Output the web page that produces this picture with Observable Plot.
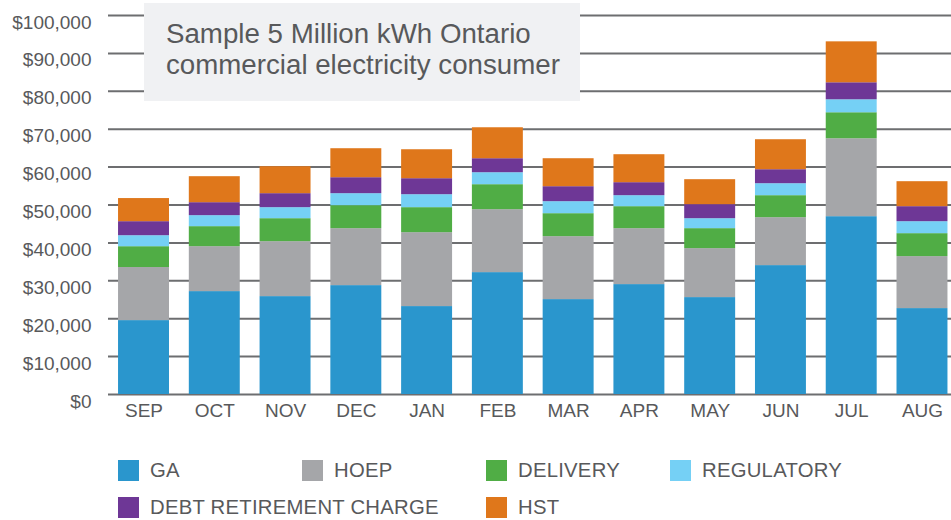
<!DOCTYPE html>
<html>
<head>
<meta charset="utf-8">
<script src="https://cdn.jsdelivr.net/npm/d3@7"></script>
<script src="https://cdn.jsdelivr.net/npm/@observablehq/plot@0.6"></script>
<style>
  html, body { margin: 0; padding: 0; background: #fff; }
  #wrap { position: relative; width: 951px; height: 520px; font-family: "Liberation Sans", Arial, Helvetica, sans-serif; color: #58595b; overflow: hidden; }
  #chart { position: absolute; left: 0; top: 0; }
  #titlebox { position: absolute; left: 144px; top: 3px; width: 436px; height: 98px; background: #f0f1f3; box-sizing: border-box; padding: 15px 0 0 22px; font-size: 27.7px; line-height: 31px; color: #58595b; white-space: nowrap; }
  .leg { position: absolute; display: flex; align-items: center; font-size: 20.3px; letter-spacing: 0.25px; height: 21px; white-space: nowrap; }
  .leg .sw { width: 21px; height: 21px; margin-right: 11px; flex: none; }
</style>
</head>
<body>
<div id="wrap">
  <div id="chart"></div>
  <div id="titlebox">Sample 5 Million kWh Ontario<br>commercial electricity consumer</div>
  <div id="legend"></div>
</div>
<script>
const months = ["SEP","OCT","NOV","DEC","JAN","FEB","MAR","APR","MAY","JUN","JUL","AUG"];
const seriesNames = ["GA","HOEP","DELIVERY","REGULATORY","DEBT RETIREMENT CHARGE","HST"];
const seriesColors = ["#2a96cd","#a5a6a9","#50ad45","#75d0f5","#6e3796","#df771b"];
const ga         = [19500, 27150, 25830, 28730, 23200, 32160, 25040, 29000, 25570, 34010, 46920, 22670];
const hoep       = [14000, 11860, 14500, 15030, 19500, 16610, 16610, 14760, 12920, 12650, 20560, 13710];
const delivery   = [5500, 5280, 6060, 6060, 6600, 6590, 6060, 5800, 5270, 5800, 6860, 6060];
const regulatory = [2900, 2900, 2910, 3170, 3420, 3160, 3170, 2900, 2630, 3160, 3420, 3160];
const drc        = [3700, 3420, 3690, 4210, 4220, 3690, 3950, 3430, 3700, 3690, 4490, 3960];
const hst        = [6100, 6860, 7110, 7650, 7640, 8170, 7380, 7380, 6590, 7910, 10800, 6590];
const yTicks = [0,10000,20000,30000,40000,50000,60000,70000,80000,90000,100000];

const seriesValues = [ga, hoep, delivery, regulatory, drc, hst];
const data = [];
seriesNames.forEach((s, i) => {
  months.forEach((m, j) => data.push({month: m, series: s, value: seriesValues[i][j]}));
});

const chart = Plot.plot({
  width: 951,
  height: 430,
  marginTop: 15,
  marginBottom: 36,
  marginLeft: 108,
  marginRight: 0,
  style: {fontFamily: '"Liberation Sans", Arial, Helvetica, sans-serif', fontSize: "19px", color: "#58595b", background: "transparent"},
  x: {domain: months, range: [114.5, 951], paddingInner: 0.28, paddingOuter: 0.05, round: false, label: null},
  y: {domain: [0, 100000], label: null},
  color: {domain: seriesNames, range: seriesColors},
  marks: [
    Plot.ruleY(yTicks, {stroke: "#6d6e70", strokeWidth: 2}),
    Plot.barY(data, {x: "month", y: "value", fill: "series", order: seriesNames}),
    Plot.axisY({ticks: yTicks, tickSize: 0, tickPadding: 17, dy: 7, tickFormat: d => "$" + d3.format(",")(d), fontSize: 19}),
    Plot.axisX({tickSize: 0, tickPadding: 9, fontSize: 19})
  ]
});
document.getElementById("chart").appendChild(chart);

const legendPos = [[118,460],[302,460],[486,460],[670,460],[118,497],[486,497]];
const legend = document.getElementById("legend");
seriesNames.forEach((s, i) => {
  const d = document.createElement("div");
  d.className = "leg";
  d.style.left = legendPos[i][0] + "px";
  d.style.top = legendPos[i][1] + "px";
  d.innerHTML = `<span class="sw" style="background:${seriesColors[i]}"></span><span>${s}</span>`;
  legend.appendChild(d);
});
</script>
</body>
</html>
